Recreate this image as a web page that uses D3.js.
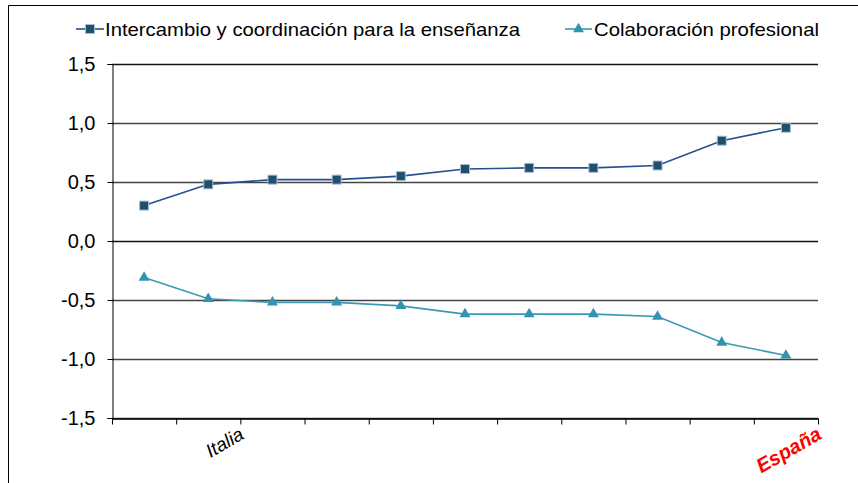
<!DOCTYPE html>
<html>
<head>
<meta charset="utf-8">
<script src="https://cdn.jsdelivr.net/npm/d3@7"></script>
<style>
  body { margin: 0; background: #fff; }
  svg { display: block; font-family: "Liberation Sans", Arial, sans-serif; }
</style>
</head>
<body>
<div id="chart"></div>
<script>
// data
var categories = ["c1", "Italia", "c3", "c4", "c5", "c6", "c7", "c8", "c9", "c10", "España"];
var catLabels = ["", "Italia", "", "", "", "", "", "", "", "", "España"];
var intercambio = [0.30, 0.48, 0.52, 0.52, 0.55, 0.61, 0.62, 0.62, 0.64, 0.85, 0.96];
var colaboracion = [-0.31, -0.49, -0.52, -0.52, -0.55, -0.62, -0.62, -0.62, -0.64, -0.86, -0.97];
var yTicks = [-1.5, -1.0, -0.5, 0, 0.5, 1.0, 1.5];
var seriesNames = ["Intercambio y coordinación para la enseñanza", "Colaboración profesional"];

var W = 858, H = 483;
var plotLeft = 112, plotRight = 818, plotTop = 64, plotBottom = 418;

var svg = d3.select("#chart").append("svg")
    .attr("width", W)
    .attr("height", H);

// outer frame (runs off the right and bottom)
svg.append("path")
    .attr("d", "M8.5," + (H + 5) + "V5.5H" + (W + 5))
    .attr("fill", "none")
    .attr("stroke", "#000")
    .attr("stroke-width", 1);

var x = d3.scaleBand().domain(categories).range([plotLeft, plotRight]);
var xc = function (d) { return x(d) + x.bandwidth() / 2; };
var xEdge = d3.scaleLinear().domain([0, categories.length]).range([plotLeft, plotRight]);
var y = d3.scaleLinear().domain([-1.5, 1.5]).range([plotBottom, plotTop]);

var fmt = function (d) { return d3.format(".1f")(d).replace(".", ",").replace("\u2212", "-"); };

// gridlines
svg.append("g").selectAll("line")
    .data(yTicks)
    .enter()
    .append("line")
    .attr("x1", plotLeft)
    .attr("x2", plotRight)
    .attr("y1", function (d) { return Math.round(y(d)) + 0.5; })
    .attr("y2", function (d) { return Math.round(y(d)) + 0.5; })
    .attr("stroke", function (d) { return d === 0 || d === 1.5 ? "#111" : "#444"; })
    .attr("stroke-width", 1.7);

// y axis
var yAxis = svg.append("g")
    .attr("transform", "translate(" + (plotLeft + 0.5) + ",0)")
    .call(d3.axisLeft(y).tickValues(yTicks).tickFormat(fmt).tickSize(5).tickPadding(12));
yAxis.select(".domain").attr("stroke", "#000");
yAxis.selectAll(".tick line").attr("stroke", "#000");
yAxis.selectAll(".tick text")
    .attr("font-size", 20)
    .attr("font-family", "Liberation Sans, Arial, sans-serif")
    .attr("fill", "#000");

// x axis
var xAxis = svg.append("g")
    .attr("transform", "translate(0," + (Math.round(plotBottom) + 0.5) + ")")
    .call(d3.axisBottom(xEdge).tickValues(d3.range(categories.length + 1)).tickFormat("").tickSize(6).tickSizeOuter(0));
xAxis.select(".domain").attr("stroke", "#000").attr("stroke-width", 1.3);
xAxis.selectAll(".tick line").attr("stroke", "#000");

// category labels, rotated
svg.append("g").selectAll("text")
    .data(categories)
    .enter()
    .append("text")
    .attr("transform", function (d) { return "translate(" + (xc(d) + 37) + ",438) rotate(-30)"; })
    .attr("text-anchor", "end")
    .attr("font-style", "italic")
    .attr("font-size", function (d, i) { return i === categories.length - 1 ? 20 : 19; })
    .attr("font-weight", function (d, i) { return i === categories.length - 1 ? "bold" : "normal"; })
    .attr("fill", function (d, i) { return i === categories.length - 1 ? "#ff0000" : "#000"; })
    .text(function (d, i) { return catLabels[i]; });

// series
var series = [
    { name: seriesNames[0], values: intercambio, line: "#24508f", fill: "#1f4f6b", stroke: "#a9bdd4", shape: d3.symbolSquare, size: 81 },
    { name: seriesNames[1], values: colaboracion, line: "#3a98b3", fill: "#3394af", stroke: "none", shape: d3.symbolTriangle, size: 52 }
];

var line = d3.line()
    .x(function (d, i) { return xc(categories[i]); })
    .y(function (d) { return y(d); });

series.forEach(function (s) {
    svg.append("path")
        .datum(s.values)
        .attr("d", line)
        .attr("fill", "none")
        .attr("stroke", s.line)
        .attr("stroke-width", 1.6);

    svg.append("g").selectAll("path")
        .data(s.values)
        .enter()
        .append("path")
        .attr("transform", function (d, i) { return "translate(" + xc(categories[i]) + "," + y(d) + ")"; })
        .attr("d", d3.symbol().type(s.shape).size(s.size))
        .attr("fill", s.fill)
        .attr("stroke", s.stroke)
        .attr("stroke-width", 1);
});

// legend
var legendItems = [
    { x0: 76, x1: 104, tx: 105, tw: 415 },
    { x0: 565, x1: 592, tx: 594, tw: 225 }
];
var legendY = 29;
series.forEach(function (s, i) {
    var it = legendItems[i];
    var g = svg.append("g");
    g.append("line")
        .attr("x1", it.x0).attr("x2", it.x1)
        .attr("y1", legendY).attr("y2", legendY)
        .attr("stroke", s.line)
        .attr("stroke-width", 1.6);
    g.append("path")
        .attr("transform", "translate(" + ((it.x0 + it.x1) / 2) + "," + legendY + ")")
        .attr("d", d3.symbol().type(s.shape).size(s.size))
        .attr("fill", s.fill)
        .attr("stroke", s.stroke);
    g.append("text")
        .attr("x", it.tx)
        .attr("y", legendY + 7)
        .attr("font-size", 19)
        .attr("textLength", it.tw)
        .attr("lengthAdjust", "spacingAndGlyphs")
        .attr("fill", "#000")
        .text(s.name);
});
</script>
</body>
</html>
